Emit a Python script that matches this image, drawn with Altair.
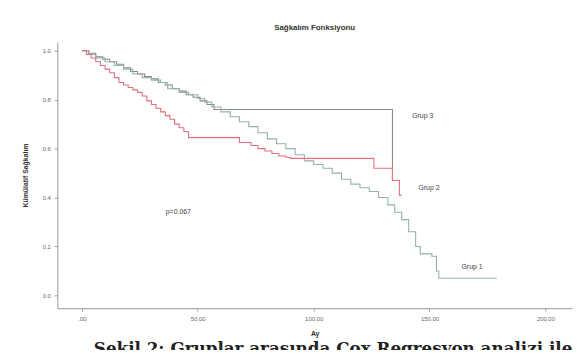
import altair as alt
import pandas as pd

# Kaplan-Meier step points (month, cumulative survival)
g1_t = [0, 3, 6, 10, 14, 18, 22, 26, 30, 34, 37, 42, 46, 50, 53, 56, 60, 64, 68, 72, 76, 80, 84,
        88, 92, 96, 100, 104, 108, 112, 116, 120, 124, 128, 132, 135, 138, 141, 144, 146, 151, 153, 154, 179]
g1_s = [1.0, 0.985, 0.97, 0.955, 0.94, 0.925, 0.905, 0.89, 0.88, 0.87, 0.845, 0.83, 0.82, 0.805, 0.79,
        0.77, 0.75, 0.73, 0.71, 0.69, 0.665, 0.64, 0.62, 0.60, 0.575, 0.55, 0.535, 0.52, 0.50, 0.475,
        0.455, 0.44, 0.425, 0.40, 0.37, 0.34, 0.31, 0.26, 0.20, 0.17, 0.16, 0.10, 0.07, 0.07]

g2_t = [0, 2, 4, 6, 8, 10, 12, 14, 16, 18, 20, 22, 24, 26, 28, 30, 32, 34, 36, 38, 40, 42, 44, 46,
        68, 73, 76, 79, 82, 85, 88, 90, 126, 134, 137, 138]
g2_s = [1.0, 0.985, 0.97, 0.955, 0.94, 0.925, 0.91, 0.89, 0.87, 0.86, 0.85, 0.84, 0.83, 0.815, 0.795,
        0.78, 0.765, 0.75, 0.735, 0.72, 0.70, 0.685, 0.67, 0.645, 0.625, 0.613, 0.60, 0.59, 0.58,
        0.57, 0.565, 0.56, 0.52, 0.47, 0.41, 0.41]

g3_t = [0, 3, 6, 9, 12, 15, 18, 21, 24, 27, 30, 33, 36, 39, 42, 45, 48, 51, 54, 57, 134, 137]
g3_s = [1.0, 0.99, 0.975, 0.965, 0.955, 0.945, 0.93, 0.915, 0.905, 0.895, 0.885, 0.87, 0.86, 0.845,
        0.835, 0.82, 0.81, 0.795, 0.78, 0.76, 0.47, 0.47]

groups = ["Grup 3", "Grup 1", "Grup 2"]
colors = ["#8a8a8a", "#93b3aa", "#e0707f"]

label_text = ["Grup 3", "Grup 2", "Grup 1", "p=0.067"]
label_x = [142.5, 145.2, 163.8, 36.2]
label_y = [0.734, 0.44, 0.117, 0.339]

x_ticks = [0, 50, 100, 150, 200]
y_ticks = [0.0, 0.2, 0.4, 0.6, 0.8, 1.0]

caption_text = ["Şekil 2: Gruplar arasında Cox Regresyon analizi ile"]

rows = []
for i, (name, t, s) in enumerate([("Grup 3", g3_t, g3_s), ("Grup 1", g1_t, g1_s), ("Grup 2", g2_t, g2_s)]):
    for a, b in zip(t, s):
        rows.append({"grup": name, "ay": a, "surv": b, "ord": i})
df = pd.DataFrame(rows)
lab = pd.DataFrame({"t": label_text, "x": label_x, "y": label_y})

xs = alt.Scale(domain=[-10.6, 211.5], nice=False, zero=False)
ys = alt.Scale(domain=[-0.052, 1.036], nice=False, zero=False)

lines = alt.Chart(df).mark_line(interpolate="step-after", strokeWidth=1.1).encode(
    x=alt.X("ay:Q", scale=xs, title="Ay",
            axis=alt.Axis(values=x_ticks,
                          labelExpr="datum.value == 0 ? '.00' : format(datum.value, '.2f')")),
    y=alt.Y("surv:Q", scale=ys, title="Kümülatif Sağkalım",
            axis=alt.Axis(values=y_ticks, format=".1f")),
    color=alt.Color("grup:N", scale=alt.Scale(domain=groups, range=colors), legend=None),
    order=alt.Order("ord:Q"),
)

texts = alt.Chart(lab).mark_text(align="left", baseline="middle", fontSize=7,
                                 color="#444", font="Liberation Sans").encode(
    x=alt.X("x:Q", scale=xs), y=alt.Y("y:Q", scale=ys), text="t:N"
)

caption = alt.Chart(pd.DataFrame({"c": caption_text})).mark_text(
    align="left", baseline="alphabetic", fontSize=17, fontWeight="bold",
    font="DejaVu Serif", color="#222"
).encode(x=alt.value(37), y=alt.value(316), text="c:N")

chart = alt.layer(lines, texts, caption).properties(
    width=522, height=270,
    title=alt.TitleParams("Sağkalım Fonksiyonu", fontSize=8, fontWeight="bold",
                          font="Liberation Sans", color="#333", offset=10, anchor="middle"),
    autosize=alt.AutoSizeParams(type="none"),
    padding={"left": 50, "top": 32, "right": 5, "bottom": 40},
).configure_view(stroke=None).configure_axis(
    grid=False, domainColor="#999", tickColor="#999", tickSize=3,
    labelFontSize=6, labelColor="#666", labelFont="Liberation Sans",
    titleFontSize=7, titleFontWeight="bold", titleColor="#333", titleFont="Liberation Sans",
).configure_axisY(titlePadding=14, labelPadding=4).configure_axisX(titlePadding=8, labelPadding=5)

chart.save("out.html", embed_options={"renderer": "svg", "actions": False})
